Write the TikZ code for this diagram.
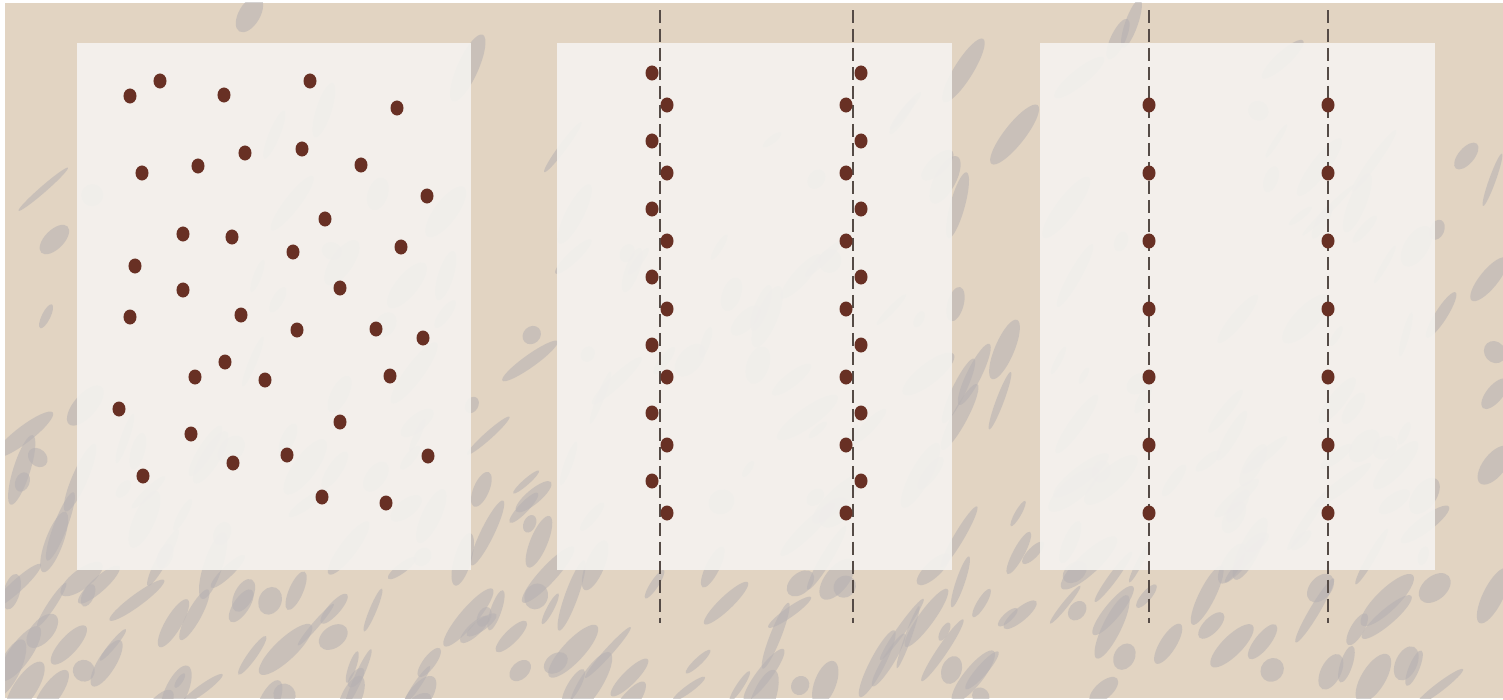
\documentclass[tikz,border=0pt]{standalone}
\usetikzlibrary{positioning}
\definecolor{soilcol}{RGB}{226,212,194}
\definecolor{streakcol}{RGB}{182,177,178}
\definecolor{panelcol}{RGB}{245,243,240}
\definecolor{seedcol}{RGB}{104,48,36}
\definecolor{rowcol}{RGB}{85,75,70}
\begin{document}
\begin{tikzpicture}[x=0.01cm, y=-0.01cm,
    panel/.style={fill=panelcol, fill opacity=0.9},
    seed/.style={fill=seedcol},
    row/.style={draw=rowcol, line width=0.4pt, dash pattern=on 3.7pt off 1.7pt},
    streak/.style={fill=streakcol, opacity=0.55},
]
\useasboundingbox (0,0) rectangle (1503,700);
\fill[white] (0,0) rectangle (1503,700);
\fill[soilcol] (5,3) rectangle (1503,698);
% soil texture, heavier towards the bottom
\begin{scope}
\clip (5,3) rectangle (1503,698);
\pgfmathsetseed{23}
\foreach \i in {1,...,320}{
  \pgfmathsetmacro{\sx}{5+rnd*1498}
  \pgfmathsetmacro{\sy}{720*sqrt(rnd)-10}
  \pgfmathsetmacro{\sl}{0.08+rnd*0.3}
  \pgfmathsetmacro{\sw}{0.03+rnd*0.09}
  \pgfmathsetmacro{\sa}{35+rnd*40}
  \fill[streak, rotate around={\sa:(\sx,\sy)}] (\sx,\sy) ellipse [x radius=\sl cm, y radius=\sw cm];
}
\end{scope}
% panels
\fill[panel] (77,43) rectangle (471,570);
\fill[panel] (557,43) rectangle (952,570);
\fill[panel] (1040,43) rectangle (1435,570);
% rows
\coordinate (rowAtop) at (660,10);  \coordinate (rowAbot) at (660,623);
\coordinate (rowBtop) at (853,10);  \coordinate (rowBbot) at (853,623);
\coordinate (rowCtop) at (1149,10); \coordinate (rowCbot) at (1149,623);
\coordinate (rowDtop) at (1328,10); \coordinate (rowDbot) at (1328,623);
\draw[row] (rowAtop) -- (rowAbot);
\draw[row] (rowBtop) -- (rowBbot);
\draw[row] (rowCtop) -- (rowCbot);
\draw[row] (rowDtop) -- (rowDbot);
% random seeding
\foreach \p in {(130,96),(160,81),(224,95),(310,81),(397,108),
    (142,173),(198,166),(245,153),(302,149),(361,165),(427,196),
    (325,219),(183,234),(232,237),(293,252),(401,247),
    (135,266),(183,290),(340,288),
    (130,317),(241,315),(297,330),(376,329),(423,338),
    (225,362),(195,377),(265,380),(390,376),
    (119,409),(340,422),(191,434),
    (143,476),(233,463),(287,455),(428,456),
    (322,497),(386,503)}
  \fill[seed] \p ellipse [x radius=0.065cm, y radius=0.075cm];
% zigzag rows
\foreach \k in {0,...,6}{
  \fill[seed] (652,73+68*\k) ellipse [x radius=0.065cm, y radius=0.075cm];
  \fill[seed] (667,105+68*\k) ellipse [x radius=0.065cm, y radius=0.075cm];
  \fill[seed] (861,73+68*\k) ellipse [x radius=0.065cm, y radius=0.075cm];
  \fill[seed] (846,105+68*\k) ellipse [x radius=0.065cm, y radius=0.075cm];
}
% single rows
\foreach \k in {0,...,6}{
  \fill[seed] (1149,105+68*\k) ellipse [x radius=0.065cm, y radius=0.075cm];
  \fill[seed] (1328,105+68*\k) ellipse [x radius=0.065cm, y radius=0.075cm];
}
\end{tikzpicture}
\end{document}
